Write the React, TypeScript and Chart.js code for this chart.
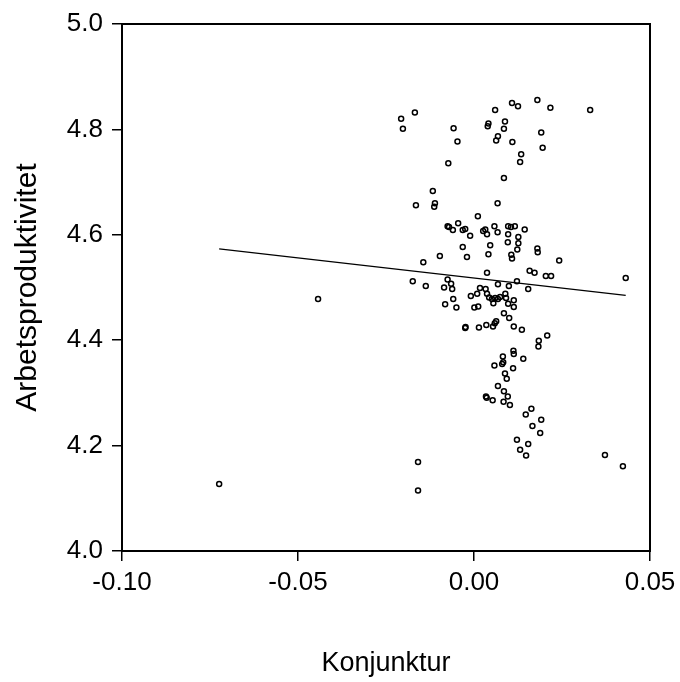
import { useEffect, useRef } from "react";
import { Chart, registerables } from "chart.js";

Chart.register(...registerables);

const xLabel = "Konjunktur";
const yLabel = "Arbetsproduktivitet";

const xTicks = [-0.1, -0.05, 0.0, 0.05];
const yTicks = [4.0, 4.2, 4.4, 4.6, 4.8, 5.0];

const konjunktur = [
  -0.0207, -0.0202, -0.0168, -0.0058, -0.0047, -0.0073, -0.0117, -0.0111, -0.0113, -0.0165,
  0.006, 0.0108, 0.0125, 0.018, 0.0217, 0.033, 0.0041, 0.0039, 0.0088, 0.0085,
  0.0068, 0.0063, 0.0109, 0.0191, 0.0195, 0.0134, 0.0131, 0.0085, 0.0067, 0.0011,
  -0.0075, -0.0071, -0.006, -0.0045, -0.0032, -0.0025, -0.0011, 0.0026, 0.0032, 0.0037,
  0.0058, 0.0067, 0.0097, 0.0105, 0.0116, 0.0097, 0.0126, 0.0144, 0.0126, 0.0096,
  -0.0032, 0.0046, 0.018, 0.0123, 0.0181, -0.0097, -0.0144, -0.002, 0.0041, 0.0106,
  0.0108, 0.0242, 0.0037, 0.0158, 0.0172, 0.0204, 0.0219, -0.0174, -0.0137, -0.0075,
  -0.0065, -0.0085, -0.0062, 0.0068, 0.0099, 0.0122, 0.0154, 0.0017, 0.0033, -0.0009,
  0.0009, 0.0037, 0.0043, 0.0051, 0.006, 0.0068, 0.0074, 0.0089, 0.0091, 0.0113,
  0.0097, 0.0113, 0.0055, -0.0059, -0.0082, -0.005, 0.0001, 0.0012, 0.0085, 0.01,
  0.0063, 0.0059, 0.0054, 0.0035, 0.0014, -0.0024, -0.0025, 0.0113, 0.0136, 0.0208,
  0.0184, 0.0183, 0.0112, 0.0113, 0.014, 0.0082, 0.0083, 0.008, 0.0058, 0.0111,
  0.0088, 0.0093, 0.0068, 0.0085, 0.0096, 0.0034, 0.0036, 0.0053, 0.0084, 0.0102,
  0.0163, 0.0147, 0.0191, 0.0166, 0.0188, 0.0122, 0.0154, 0.0131, 0.0148, -0.0159,
  -0.0159, -0.0443, -0.0724, 0.0372, 0.0423, 0.0431,
];

const arbetsproduktivitet = [
  4.82, 4.801, 4.832, 4.802, 4.777, 4.736, 4.683, 4.66, 4.653, 4.656,
  4.837, 4.85, 4.844, 4.856, 4.841, 4.837, 4.811, 4.806, 4.815, 4.801,
  4.787, 4.779, 4.776, 4.794, 4.765, 4.753, 4.738, 4.708, 4.66, 4.635,
  4.616, 4.615, 4.609, 4.622, 4.609, 4.611, 4.598, 4.607, 4.61, 4.601,
  4.616, 4.605, 4.616, 4.615, 4.616, 4.601, 4.596, 4.61, 4.584, 4.586,
  4.577, 4.58, 4.574, 4.572, 4.567, 4.56, 4.548, 4.558, 4.563, 4.562,
  4.555, 4.551, 4.528, 4.532, 4.528, 4.522, 4.522, 4.512, 4.503, 4.515,
  4.507, 4.5, 4.497, 4.506, 4.503, 4.512, 4.497, 4.499, 4.497, 4.484,
  4.488, 4.488, 4.481, 4.478, 4.48, 4.478, 4.482, 4.488, 4.48, 4.476,
  4.469, 4.463, 4.47, 4.478, 4.468, 4.462, 4.462, 4.464, 4.451, 4.442,
  4.436, 4.432, 4.426, 4.429, 4.424, 4.425, 4.423, 4.426, 4.42, 4.409,
  4.399, 4.388, 4.38, 4.374, 4.365, 4.369, 4.358, 4.355, 4.352, 4.347,
  4.337, 4.327, 4.313, 4.303, 4.293, 4.293, 4.291, 4.286, 4.283, 4.277,
  4.27, 4.259, 4.249, 4.237, 4.224, 4.211, 4.203, 4.192, 4.181, 4.169,
  4.115, 4.478, 4.127, 4.182, 4.161, 4.518,
];

// Fitted regression line
const fitIntercept = 4.518;
const fitSlope = -0.762;

const FONT = "'Liberation Sans', Arial, Helvetica, sans-serif";

const framePlugin = {
  id: "frame",
  afterDatasetsDraw(chart: any) {
    const { ctx, chartArea } = chart;
    const { left, top, right, bottom } = chartArea;
    ctx.save();
    ctx.strokeStyle = "#000";
    ctx.lineWidth = 2;
    ctx.strokeRect(left, top, right - left, bottom - top);
    ctx.restore();
  },
};

export default function App() {
  const ref = useRef<HTMLCanvasElement | null>(null);

  useEffect(() => {
    if (!ref.current) return;
    const points = konjunktur.map((x, i) => ({ x, y: arbetsproduktivitet[i] }));
    const xMin = Math.min(...konjunktur);
    const xMax = Math.max(...konjunktur);
    const fitLine = [
      { x: xMin, y: fitIntercept + fitSlope * xMin },
      { x: xMax, y: fitIntercept + fitSlope * xMax },
    ];

    const chart = new Chart(ref.current, {
      type: "scatter",
      data: {
        datasets: [
          {
            data: points,
            pointRadius: 2.5,
            pointHoverRadius: 2.5,
            borderWidth: 1.5,
            borderColor: "#000",
            backgroundColor: "rgba(0,0,0,0)",
            pointStyle: "circle",
          },
          {
            type: "line",
            data: fitLine,
            borderColor: "#000",
            borderWidth: 1.3,
            pointRadius: 0,
            showLine: true,
            fill: false,
          } as any,
        ],
      },
      options: {
        responsive: true,
        maintainAspectRatio: false,
        animation: false,
        events: [],
        layout: { padding: { top: 24, right: 30, left: 0, bottom: 0 } },
        plugins: {
          legend: { display: false },
          tooltip: { enabled: false },
        },
        scales: {
          x: {
            type: "linear",
            position: "bottom",
            min: -0.1,
            max: 0.05,
            afterBuildTicks: (scale: any) => {
              scale.ticks = xTicks.map((v) => ({ value: v }));
            },
            afterFit: (scale: any) => {
              scale.height = 131;
              scale.paddingLeft = 0;
              scale.paddingRight = 0;
            },
            grid: {
              display: true,
              drawOnChartArea: false,
              drawTicks: true,
              tickLength: 10,
              color: "#000",
              lineWidth: 1.5,
            },
            border: { display: false },
            ticks: {
              color: "#000",
              padding: 6,
              maxRotation: 0,
              font: { family: FONT, size: 26 },
              callback: (v: any) => Number(v).toFixed(2),
            },
            title: {
              display: true,
              text: xLabel,
              color: "#000",
              font: { family: FONT, size: 27 },
              padding: { top: 0, bottom: 2 },
            },
          },
          y: {
            type: "linear",
            min: 4.0,
            max: 5.0,
            afterBuildTicks: (scale: any) => {
              scale.ticks = yTicks.map((v) => ({ value: v }));
            },
            afterFit: (scale: any) => {
              scale.width = 122;
              scale.paddingTop = 0;
              scale.paddingBottom = 0;
            },
            grid: {
              display: true,
              drawOnChartArea: false,
              drawTicks: true,
              tickLength: 10,
              color: "#000",
              lineWidth: 1.5,
            },
            border: { display: false },
            ticks: {
              color: "#000",
              padding: 9,
              font: { family: FONT, size: 26 },
              callback: (v: any) => Number(v).toFixed(1),
            },
            title: {
              display: true,
              text: yLabel,
              color: "#000",
              font: { family: FONT, size: 30 },
              padding: { top: 10, bottom: 0 },
            },
          },
        },
      },
      plugins: [framePlugin],
    });

    return () => chart.destroy();
  }, []);

  return (
    <div style={{ position: "fixed", left: 0, top: 0, width: 680, height: 682, background: "#fff" }}>
      <canvas ref={ref} />
    </div>
  );
}
